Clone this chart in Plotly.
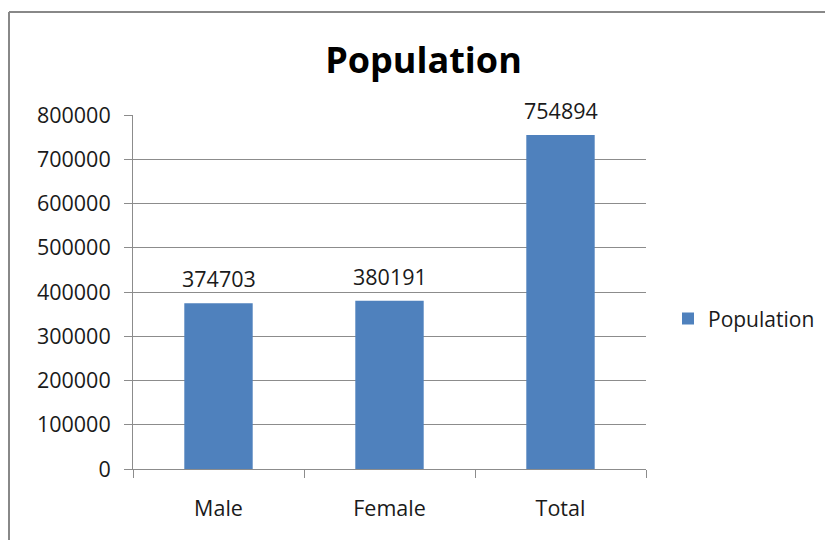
import plotly.graph_objects as go

categories = ["Male", "Female", "Total"]
population = [374703, 380191, 754894]
y_ticks = [0, 100000, 200000, 300000, 400000, 500000, 600000, 700000, 800000]

BLUE = "#4F81BD"
GRID = "#8C8C8C"
FONT = "Open Sans, DejaVu Sans, sans-serif"
TXT = "#1a1a1a"

fig = go.Figure()
fig.add_trace(go.Bar(
    x=categories, y=population, name="Population",
    marker=dict(color=BLUE, line=dict(width=0)),
    width=0.4, showlegend=True,
))

for c, v in zip(categories, population):
    fig.add_annotation(x=c, y=v, text=str(v), showarrow=False,
                       yanchor="bottom", yshift=8,
                       font=dict(family=FONT, size=21.5, color=TXT))

fig.update_layout(
    width=825, height=540,
    margin=dict(l=133, r=179, t=115, b=71, autoexpand=False),
    paper_bgcolor="white", plot_bgcolor="white",
    title=dict(text="<b>Population</b>", x=423.5/825, xanchor="center",
               y=1-60/540, yanchor="middle", xref="container", yref="container",
               font=dict(family=FONT, size=36, color="#000000")),
    legend=dict(x=668/825, xanchor="left", xref="container",
                y=0.424, yanchor="middle",
                font=dict(family=FONT, size=21, color=TXT),
                bgcolor="rgba(0,0,0,0)", itemwidth=30),
    bargap=0.6,
)

fig.update_xaxes(
    showline=True, linecolor=GRID, linewidth=1,
    ticks="outside", ticklen=8, tickcolor=GRID, tickson="boundaries",
    tickfont=dict(family=FONT, size=21.5, color=TXT),
    ticklabelstandoff=20, showgrid=False, automargin=False,
)
fig.update_yaxes(
    range=[0, 800000], tickvals=y_ticks, ticktext=[str(v) for v in y_ticks],
    showline=True, linecolor=GRID, linewidth=1,
    ticks="outside", ticklen=8, tickcolor=GRID,
    showgrid=True, gridcolor=GRID, gridwidth=1,
    tickfont=dict(family=FONT, size=21.5, color=TXT),
    zeroline=False, ticklabelstandoff=9, automargin=False,
)

# chart-area border (left and top edges visible)
bx0 = (9 - 133) / 513
by1 = (469 - 12) / 354
fig.add_shape(type="line", xref="paper", yref="paper", x0=bx0, x1=bx0, y0=-1, y1=by1,
              line=dict(color="#888888", width=2))
fig.add_shape(type="line", xref="paper", yref="paper", x0=bx0, x1=2, y0=by1, y1=by1,
              line=dict(color="#888888", width=2))

fig.write_html("out.html")
